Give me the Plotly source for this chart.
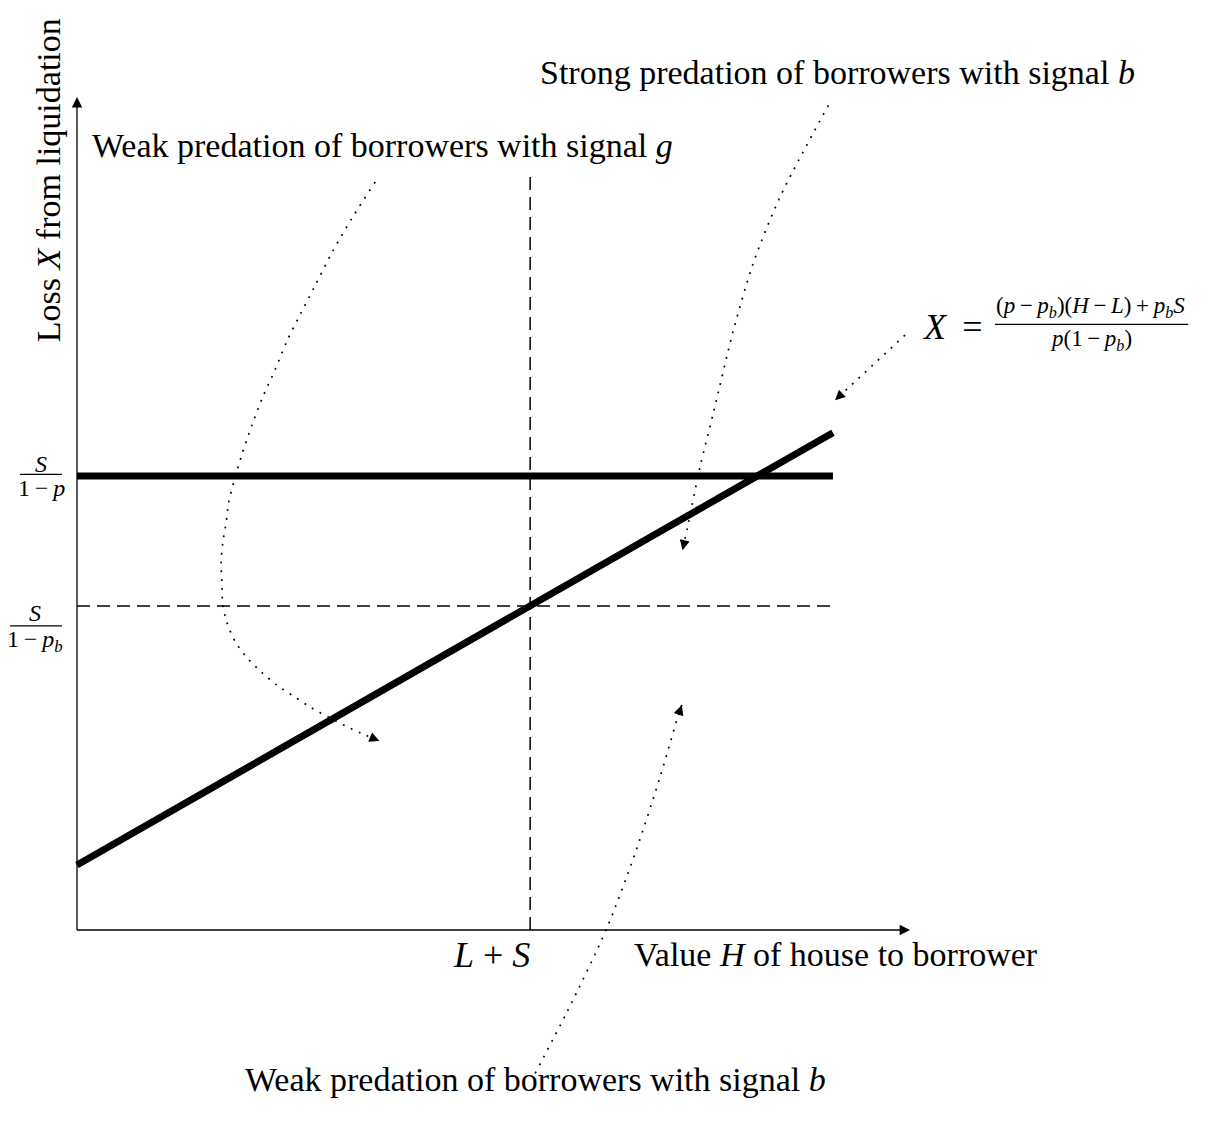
import numpy as np
import plotly.graph_objects as go

# ---- diagram values (abstract units; axes run 0..10) ----
x_axis_end = 10.0
y_axis_end = 10.0
L_plus_S = 5.44            # vertical dashed line position
level_p = 5.45             # S/(1-p)
level_pb = 3.89            # S/(1-p_b)
line_x_end = 9.075         # right end of plotted lines
diag_x = [0.0, 9.075]      # X = ((p-pb)(H-L)+pb S)/(p(1-pb))
diag_y = [0.78, 5.97]
vdash_top = 9.09

# dotted annotation curves
weak_g_x = [3.58, 3.31, 3.07, 2.85, 2.68, 2.52, 2.38, 2.23, 2.10, 1.98, 1.88, 1.82, 1.79, 1.75, 1.73, 1.74, 1.75, 1.80, 1.90, 2.04, 2.22, 2.40, 2.61, 2.81, 3.03, 3.24, 3.46, 3.63]
weak_g_y = [8.98, 8.56, 8.15, 7.72, 7.39, 7.07, 6.73, 6.40, 6.06, 5.71, 5.37, 5.13, 4.89, 4.65, 4.41, 4.17, 3.91, 3.69, 3.46, 3.27, 3.09, 2.94, 2.80, 2.67, 2.55, 2.44, 2.34, 2.27]
strong_b_x = [9.02, 8.44, 8.12, 7.88, 7.64, 7.48, 7.33, 7.27]
strong_b_y = [9.90, 8.80, 8.01, 7.20, 6.21, 5.56, 4.84, 4.56]
weak_b_x = [5.50, 5.89, 6.36, 6.70, 7.00, 7.21, 7.26]
weak_b_y = [-1.72, -0.97, 0.02, 0.92, 1.84, 2.55, 2.70]
formula_x = [9.94, 9.10]
formula_y = [7.14, 6.36]

# text
y_title = "Loss <i>X</i> from liquidation"
x_title = "Value <i>H</i> of house to borrower"
x_tick = "<i>L</i> + <i>S</i>"
lbl_weak_g = "Weak predation of borrowers with signal <i>g</i>"
lbl_strong_b = "Strong predation of borrowers with signal <i>b</i>"
lbl_weak_b = "Weak predation of borrowers with signal <i>b</i>"

FONT = "Liberation Serif"
PX = 83.3        # px per unit
OFF = 8          # page body margin
W, H = 1192, 1110
x_range = [(OFF - 77) / PX, (OFF + W - 77) / PX]
y_range = [(930 - (OFF + H)) / PX, (930 - OFF) / PX]

fig = go.Figure()

dot = "1.8px,7px"
DASH = "13px,7px"

# dashed guides
fig.add_trace(go.Scatter(x=[0, line_x_end], y=[level_pb, level_pb], mode="lines",
                         line=dict(color="black", width=1.5, dash=DASH), hoverinfo="skip"))
fig.add_trace(go.Scatter(x=[L_plus_S, L_plus_S], y=[0, vdash_top], mode="lines",
                         line=dict(color="black", width=1.5, dash=DASH), hoverinfo="skip"))
# thick lines
fig.add_trace(go.Scatter(x=[0, line_x_end], y=[level_p, level_p], mode="lines",
                         line=dict(color="black", width=7), hoverinfo="skip"))
fig.add_trace(go.Scatter(x=diag_x, y=diag_y, mode="lines",
                         line=dict(color="black", width=7), hoverinfo="skip"))

# axes
fig.add_trace(go.Scatter(x=[0, 0], y=[0, y_axis_end - 0.05], mode="lines",
                         line=dict(color="black", width=1.3), hoverinfo="skip"))
fig.add_trace(go.Scatter(x=[0, x_axis_end - 0.05], y=[0, 0], mode="lines",
                         line=dict(color="black", width=1.3), hoverinfo="skip"))

annotations = []

def head(cx, cy, back=0.08, width=1.2, size=1.3):
    tx, ty = cx[-1], cy[-1]
    dx, dy = tx - cx[-2], ty - cy[-2]
    n = np.hypot(dx, dy)
    annotations.append(dict(x=tx, y=ty, ax=tx - dx / n * back, ay=ty - dy / n * back,
                            xref="x", yref="y", axref="x", ayref="y", text="",
                            showarrow=True, arrowhead=2, arrowsize=size,
                            arrowwidth=width, arrowcolor="black"))

head([0, 0], [0, y_axis_end], width=1.3, size=1.6)
head([0, x_axis_end], [0, 0], width=1.3, size=1.6)

# dotted curves
for cx, cy in [(weak_g_x, weak_g_y), (strong_b_x, strong_b_y), (weak_b_x, weak_b_y), (formula_x, formula_y)]:
    fig.add_trace(go.Scatter(x=cx, y=cy, mode="lines",
                             line=dict(color="black", width=1.7, dash=dot, shape="spline", smoothing=0.8),
                             hoverinfo="skip"))
    head(cx, cy, back=0.09, width=1.0, size=2.0)

def text(t, x, y, size=34, xanchor="left", yanchor="middle", angle=0):
    annotations.append(dict(x=x, y=y, xref="x", yref="y", text=t, showarrow=False,
                            xanchor=xanchor, yanchor=yanchor, textangle=angle,
                            font=dict(family=FONT, size=size, color="black")))

text(lbl_weak_g, 0.156, 9.42)
text(lbl_strong_b, 5.53, 10.30)
text(lbl_weak_b, 1.99, -1.80)
text(x_title, 6.66, -0.30)
text(x_tick, 4.98, -0.30, size=36, xanchor="center")
text(y_title, -0.35, 9.0, angle=-90, xanchor="center")

# fractions
shapes = []
def frac(num, den, xc, ybar, x0, x1, size=24, gap_n=0.0, gap_d=0.02):
    text(num, xc, ybar - gap_n, size=size, xanchor="center", yanchor="bottom")
    text(den, xc, ybar + gap_d, size=size, xanchor="center", yanchor="top")
    shapes.append(dict(type="line", xref="x", yref="y", x0=x0, x1=x1, y0=ybar, y1=ybar,
                       line=dict(color="black", width=1.2)))

frac("<i>S</i>", "1\u2009−\u2009<i>p</i>", -0.43, level_p + 0.02, -0.684, -0.18, gap_n=0.05)
frac("<i>S</i>", "1\u2009−\u2009<i>p<sub>b</sub></i>", -0.50, level_pb - 0.24, -0.804, -0.18, gap_n=0.02)

# formula
text("<i>X</i>\u2009 = ", 10.12, 7.24, size=36)
frac("(<i>p</i>\u2009−\u2009<i>p<sub>b</sub></i>)(<i>H</i>\u2009−\u2009<i>L</i>)\u2009+\u2009<i>p<sub>b</sub>S</i>",
     "<i>p</i>(1\u2009−\u2009<i>p<sub>b</sub></i>)",
     12.17, 7.27, 11.02, 13.34, size=23, gap_n=-0.02, gap_d=0.0)

fig.update_layout(
    width=W, height=H,
    margin=dict(l=0, r=0, t=0, b=0),
    paper_bgcolor="white", plot_bgcolor="white",
    showlegend=False,
    xaxis=dict(range=x_range, visible=False, fixedrange=True),
    yaxis=dict(range=y_range, visible=False, fixedrange=True),
    annotations=annotations, shapes=shapes,
)

fig.write_html("out.html")
